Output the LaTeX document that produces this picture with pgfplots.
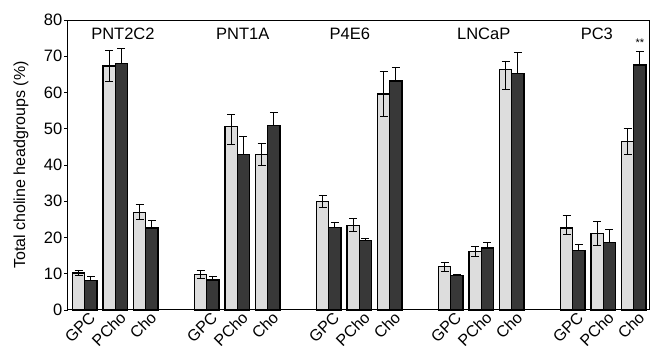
\documentclass[border=0pt]{standalone}
\usepackage{pgfplots}
\pgfplotsset{compat=1.18}
\usepackage{fontspec}
\setmainfont{Liberation Sans}
\definecolor{lightbar}{HTML}{DDDDDD}
\definecolor{darkbar}{HTML}{383838}
\begin{document}
\begin{tikzpicture}
\path[use as bounding box] (-68pt,-43pt) rectangle (589pt,310pt);
\begin{axis}[
  at={(0,0)}, anchor=south west,
  scale only axis, width=581pt, height=290pt,
  xmin=-0.55, xmax=18.5, ymin=0, ymax=80,
  ytick={0,10,...,80},
  xtick={0,1,2,4,5,6,8,9,10,12,13,14,16,17,18},
  xticklabels={GPC,PCho,Cho,GPC,PCho,Cho,GPC,PCho,Cho,GPC,PCho,Cho,GPC,PCho,Cho},
  x tick label style={rotate=45, anchor=north east, font=\fontsize{16}{19}\selectfont, inner sep=0.5pt, xshift=5pt},
  y tick label style={font=\fontsize{16.5}{19}\selectfont, inner sep=2pt},
  /pgf/number format/assume math mode=true,
  tick pos=left, tick align=outside,
  major tick length=3.5pt,
  xtick style={draw=none},
  every tick/.style={black, line width=0.8pt},
  axis line style={line width=1pt},
  ylabel={Total choline headgroups (\%)},
  ylabel style={font=\fontsize{16}{19}\selectfont, at={([xshift=-47pt]axis description cs:0,0.5)}, anchor=center},
  ybar=0pt, bar width=0.4,
  clip=false,
]
\addplot[ybar, bar shift=-0.2, fill=lightbar, draw=black, line width=1.2pt,
  error bars/.cd, y dir=both, y explicit,
  error bar style={line width=0.9pt, black},
  error mark options={rotate=90, mark size=4pt, line width=0.9pt, black}]
coordinates {
 (0,10.2) +- (0,0.8)
 (1,67.3) +- (0,4.3)
 (2,27.0) +- (0,2.1)
 (4,9.8) +- (0,1.1)
 (5,50.6) += (0,3.3) -= (0,5.0)
 (6,42.9) +- (0,3.0)
 (8,29.9) +- (0,1.6)
 (9,23.4) +- (0,1.8)
 (10,59.6) +- (0,6.3)
 (12,11.9) +- (0,1.2)
 (13,16.2) +- (0,1.3)
 (14,66.4) += (0,2.3) -= (0,5.5)
 (16,22.6) += (0,3.4) -= (0,1.8)
 (17,21.1) +- (0,3.3)
 (18,46.4) +- (0,3.6)
};
\addplot[ybar, bar shift=0.2, fill=darkbar, draw=black, line width=1.2pt,
  error bars/.cd, y dir=plus, y explicit,
  error bar style={line width=0.9pt, black},
  error mark options={rotate=90, mark size=4pt, line width=0.9pt, black}]
coordinates {
 (0,8.2) +- (0,1.0)
 (1,67.9) +- (0,4.3)
 (2,22.6) +- (0,2.0)
 (4,8.3) +- (0,1.0)
 (5,42.8) +- (0,5.2)
 (6,50.8) +- (0,3.7)
 (8,22.7) +- (0,1.5)
 (9,19.2) +- (0,0.6)
 (10,63.2) +- (0,3.8)
 (12,9.6) +- (0,0.3)
 (13,17.1) +- (0,1.5)
 (14,65.3) +- (0,5.8)
 (16,16.5) +- (0,1.7)
 (17,18.6) +- (0,3.7)
 (18,67.6) +- (0,3.7)
};
\node[font=\fontsize{16.5}{19}\selectfont] at (axis cs:1.25,76.3) {PNT2C2};
\node[font=\fontsize{16.5}{19}\selectfont] at (axis cs:5.18,76.3) {PNT1A};
\node[font=\fontsize{16.5}{19}\selectfont] at (axis cs:8.69,76.3) {P4E6};
\node[font=\fontsize{16.5}{19}\selectfont] at (axis cs:13.08,76.3) {LNCaP};
\node[font=\fontsize{16.5}{19}\selectfont] at (axis cs:16.79,76.3) {PC3};
\node[font=\fontsize{11}{13}\selectfont] at (axis cs:18.2,73.6) {**};
\end{axis}
\end{tikzpicture}
\end{document}
